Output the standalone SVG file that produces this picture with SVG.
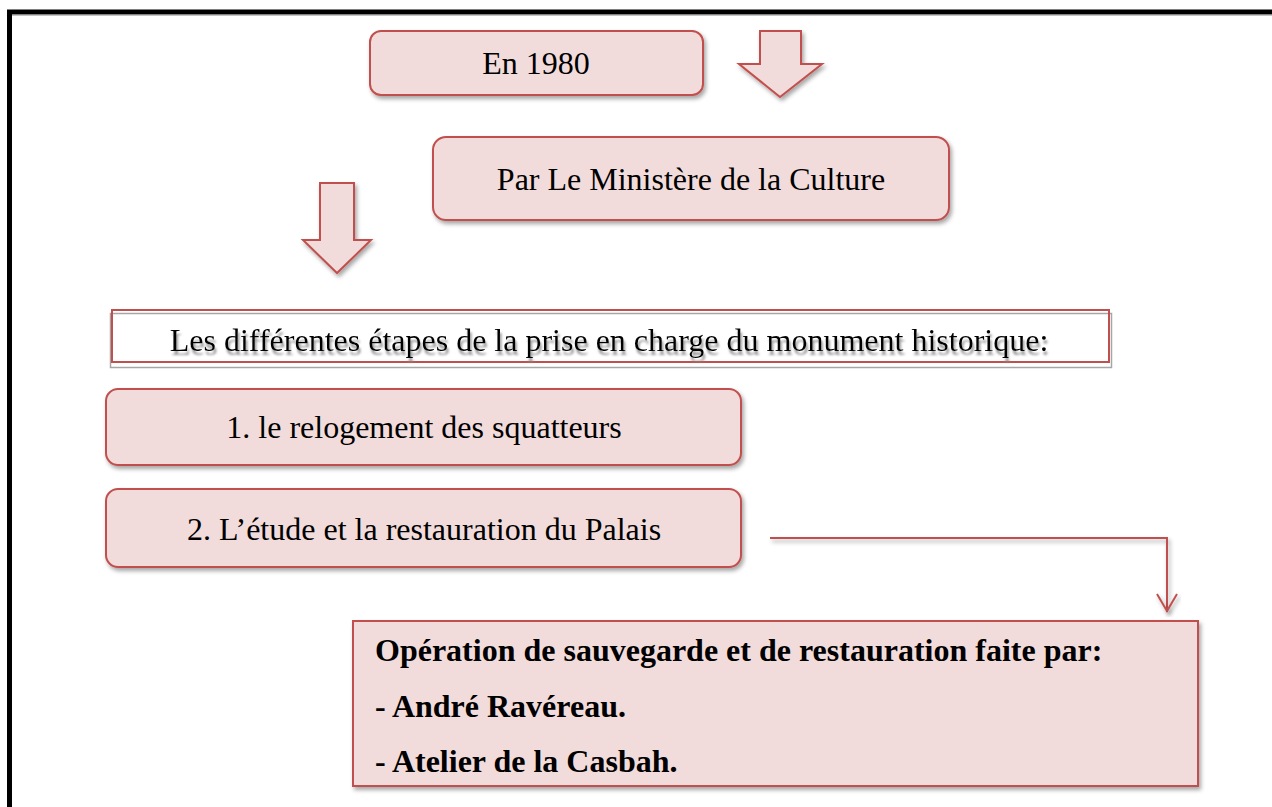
<svg xmlns="http://www.w3.org/2000/svg" width="1272" height="807" viewBox="0 0 1272 807">
<defs>
<filter id="sh" x="-10%" y="-20%" width="130%" height="150%">
<feDropShadow dx="2" dy="3" stdDeviation="2" flood-color="#000" flood-opacity="0.35"/>
</filter>
<filter id="tsh" x="-5%" y="-30%" width="110%" height="170%">
<feDropShadow dx="1.5" dy="4" stdDeviation="0.8" flood-color="#888" flood-opacity="0.9"/>
</filter>
</defs>
<style>
.box{fill:#f2dcdb;stroke:#c0504d;stroke-width:2;filter:url(#sh)}
.arr{fill:#f2dcdb;stroke:#c0504d;stroke-width:2;filter:url(#sh);stroke-linejoin:miter}
.t{font-family:"Liberation Serif","Times New Roman",serif;font-size:32px;fill:#000}
.b{font-family:"Liberation Serif","Times New Roman",serif;font-size:32px;font-weight:bold;fill:#000}
.con{fill:none;stroke:#c0504d;stroke-width:2;filter:url(#sh)}
</style>
<rect x="0" y="0" width="1272" height="807" fill="#fff"/>
<rect x="9.5" y="12" width="1290" height="830" fill="none" stroke="#000" stroke-width="5"/>
<line x1="12" y1="15" x2="1272" y2="15" stroke="#888" stroke-width="1"/>

<g id="n1980">
<rect class="box" x="370" y="31" width="333" height="64" rx="11"/>
<text class="t" x="536" y="74" text-anchor="middle">En 1980</text>
</g>
<g id="arrow-right">
<polygon class="arr" points="760,31 801,31 801,64 822,64 780,97 739,64 760,64"/>
</g>
<g id="nministere">
<rect class="box" x="433" y="137" width="516" height="83" rx="13"/>
<text class="t" x="691" y="190" text-anchor="middle">Par Le Ministère de la Culture</text>
</g>
<g id="arrow-left">
<polygon class="arr" points="320,183 354,183 354,240 371,240 337,273 303,240 320,240"/>
</g>
<g id="ntitle">
<rect x="110.5" y="313.5" width="1001" height="54" fill="#fff" stroke="#a6a6a6" stroke-width="1.5"/>
<rect x="112" y="310" width="997" height="52" fill="none" stroke="#c0504d" stroke-width="2"/>
<text class="t" x="609" y="351" text-anchor="middle" filter="url(#tsh)">Les différentes étapes de la prise en charge du monument historique:</text>
</g>
<g id="nstep1">
<rect class="box" x="106" y="389" width="635" height="76" rx="12"/>
<text class="t" x="424" y="438" text-anchor="middle">1. le relogement des squatteurs</text>
</g>
<g id="nstep2">
<rect class="box" x="106" y="489" width="635" height="78" rx="12"/>
<text class="t" x="424" y="540" text-anchor="middle">2. L’étude et la restauration du Palais</text>
</g>
<g id="connectors">
<polyline class="con" points="770,538 1167,538 1167,612"/>
<polyline class="con" points="1157,594 1167,611 1177,594"/>
</g>
<g id="noperation">
<rect class="box" x="353" y="621" width="845" height="165"/>
<text class="b" x="375" y="661">Opération de sauvegarde et de restauration faite par:</text>
<text class="b" x="375" y="717">- André Ravéreau.</text>
<text class="b" x="375" y="772">- Atelier de la Casbah.</text>
</g>
</svg>
